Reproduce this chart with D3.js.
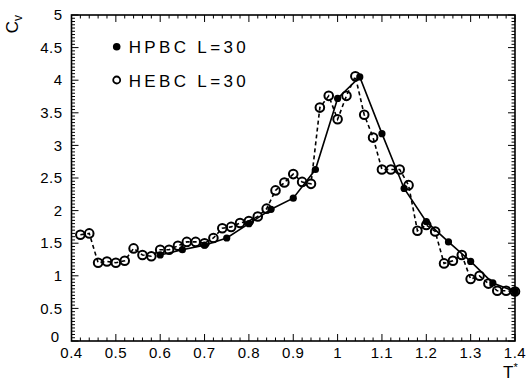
<!DOCTYPE html>
<html>
<head>
<meta charset="utf-8">
<script src="https://cdn.jsdelivr.net/npm/d3@7"></script>
<style>
  body { margin: 0; background: #fff; }
  svg { display: block; }
  text { font-family: "Liberation Sans", Arial, Helvetica, sans-serif; fill: #000; }
</style>
</head>
<body>
<div id="chart"></div>
<script>
// HEBC L=30 (open circles, dashed)
var hebcT = [0.42, 0.44, 0.46, 0.48, 0.50, 0.52, 0.54, 0.56, 0.58, 0.60,
             0.62, 0.64, 0.66, 0.68, 0.70, 0.72, 0.74, 0.76, 0.78, 0.80,
             0.82, 0.84, 0.86, 0.88, 0.90, 0.92, 0.94, 0.96, 0.98, 1.00,
             1.02, 1.04, 1.06, 1.08, 1.10, 1.12, 1.14, 1.16, 1.18, 1.20,
             1.22, 1.24, 1.26, 1.28, 1.30, 1.32, 1.34, 1.36, 1.38, 1.40];
var hebcCv = [1.63, 1.65, 1.20, 1.22, 1.20, 1.23, 1.42, 1.32, 1.30, 1.40,
              1.40, 1.46, 1.52, 1.52, 1.50, 1.58, 1.73, 1.75, 1.81, 1.84,
              1.91, 2.03, 2.31, 2.43, 2.56, 2.44, 2.41, 3.58, 3.76, 3.40,
              3.76, 4.06, 3.47, 3.12, 2.63, 2.63, 2.63, 2.39, 1.69, 1.78,
              1.68, 1.19, 1.23, 1.32, 0.95, 1.00, 0.88, 0.77, 0.77, 0.76];

// HPBC L=30 (filled dots, solid)
var hpbcT = [0.60, 0.65, 0.70, 0.75, 0.80, 0.85, 0.90, 0.95, 1.00,
             1.05, 1.10, 1.15, 1.20, 1.25, 1.30, 1.35, 1.40];
var hpbcCv = [1.32, 1.40, 1.47, 1.58, 1.80, 2.02, 2.19, 2.63, 3.72,
              4.05, 3.18, 2.34, 1.83, 1.52, 1.22, 0.89, 0.76];

var xTicks = [0.4, 0.5, 0.6, 0.7, 0.8, 0.9, 1, 1.1, 1.2, 1.3, 1.4];
var yTicks = [0, 0.5, 1, 1.5, 2, 2.5, 3, 3.5, 4, 4.5, 5];
var legendNames = ["HPBC L=30", "HEBC L=30"];

var W = 529, H = 382;
var margin = {top: 15, right: 14, bottom: 41, left: 71.5},
    width = W - margin.left - margin.right,
    height = H - margin.top - margin.bottom;

var x = d3.scaleLinear().domain([0.4, 1.4]).range([0, width]);
var y = d3.scaleLinear().domain([0, 5]).range([height, 0]);

var svg = d3.select("#chart").append("svg")
    .attr("width", W)
    .attr("height", H)
  .append("g")
    .attr("transform", "translate(" + margin.left + "," + margin.top + ")");

// minor / major ticks, drawn inward on all four sides
var xMinor = d3.range(0, 51).map(function(i) { return 0.4 + i * 0.02; });
var yMinor = d3.range(0, 101).map(function(i) { return i * 0.05; });

function isMajor(v, step) {
  return Math.abs(v / step - Math.round(v / step)) < 1e-6;
}

var ticks = svg.append("g").attr("stroke", "#000").attr("stroke-width", 1);
xMinor.forEach(function(v) {
  var len = isMajor(v, 0.1) ? 7 : 3.5;
  ticks.append("line").attr("x1", x(v)).attr("x2", x(v))
    .attr("y1", height).attr("y2", height - len);
  ticks.append("line").attr("x1", x(v)).attr("x2", x(v))
    .attr("y1", 0).attr("y2", len);
});
yMinor.forEach(function(v) {
  var len = isMajor(v, 0.5) ? 7 : 3.5;
  ticks.append("line").attr("y1", y(v)).attr("y2", y(v))
    .attr("x1", 0).attr("x2", len);
  ticks.append("line").attr("y1", y(v)).attr("y2", y(v))
    .attr("x1", width).attr("x2", width - len);
});

// frame
svg.append("rect")
  .attr("width", width)
  .attr("height", height)
  .attr("fill", "none")
  .attr("stroke", "#000")
  .attr("stroke-width", 1.6);

// tick labels
svg.selectAll(".xlab").data(xTicks).enter().append("text")
  .attr("class", "xlab")
  .attr("x", function(d) { return x(d); })
  .attr("y", height + 17)
  .attr("text-anchor", "middle")
  .style("font-size", "15px")
  .style("letter-spacing", "0.5px")
  .text(function(d) { return d; });

// the "0" sits a little up and left, clear of "0.4"
svg.selectAll(".ylab").data(yTicks).enter().append("text")
  .attr("class", "ylab")
  .attr("x", function(d) { return d === 0 ? -12 : -9; })
  .attr("y", function(d) { return y(d) + (d === 0 ? -4 : 0); })
  .attr("dy", "0.35em")
  .attr("text-anchor", "end")
  .style("font-size", "15px")
  .style("letter-spacing", "0.5px")
  .text(function(d) { return d; });

// axis titles
var cv = svg.append("text")
  .attr("transform", "translate(" + (18 - margin.left) + ",0) rotate(-90)")
  .attr("text-anchor", "end")
  .style("font-size", "17px");
cv.append("tspan").text("C");
cv.append("tspan").attr("dy", 4).style("font-size", "12px").text("v");

var tt = svg.append("text")
  .attr("x", width - 12)
  .attr("y", height + 37)
  .style("font-size", "17px");
tt.append("tspan").text("T");
tt.append("tspan").attr("dy", -7).style("font-size", "11px").text("*");

// lines
var line = d3.line()
  .x(function(d) { return x(d[0]); })
  .y(function(d) { return y(d[1]); });

var hebc = d3.zip(hebcT, hebcCv);
var hpbc = d3.zip(hpbcT, hpbcCv);

svg.append("path")
  .datum(hebc)
  .attr("d", line)
  .attr("fill", "none")
  .attr("stroke", "#000")
  .attr("stroke-width", 1.6)
  .attr("stroke-dasharray", "4,3");

svg.append("path")
  .datum(hpbc)
  .attr("d", line)
  .attr("fill", "none")
  .attr("stroke", "#000")
  .attr("stroke-width", 1.6);

svg.selectAll(".open").data(hebc).enter().append("circle")
  .attr("class", "open")
  .attr("cx", function(d) { return x(d[0]); })
  .attr("cy", function(d) { return y(d[1]); })
  .attr("r", 4.3)
  .attr("fill", "none")
  .attr("stroke", "#000")
  .attr("stroke-width", 2);

svg.selectAll(".dot").data(hpbc).enter().append("circle")
  .attr("class", "dot")
  .attr("cx", function(d) { return x(d[0]); })
  .attr("cy", function(d) { return y(d[1]); })
  .attr("r", 3.6)
  .attr("fill", "#000");

// legend
var lg = svg.append("g").attr("transform", "translate(" + (116.7 - margin.left) + ",0)");
lg.append("circle").attr("cx", 0).attr("cy", 46.7 - margin.top).attr("r", 3.8).attr("fill", "#000");
lg.append("circle").attr("cx", 0).attr("cy", 80 - margin.top).attr("r", 3.5)
  .attr("fill", "none").attr("stroke", "#000").attr("stroke-width", 1.8);
lg.selectAll("text").data(legendNames).enter().append("text")
  .attr("x", 12)
  .attr("y", function(d, i) { return (i === 0 ? 53 : 86.5) - margin.top; })
  .attr("textLength", 117)
  .attr("lengthAdjust", "spacing")
  .style("font-size", "17px")
  .text(function(d) { return d; });
</script>
</body>
</html>
